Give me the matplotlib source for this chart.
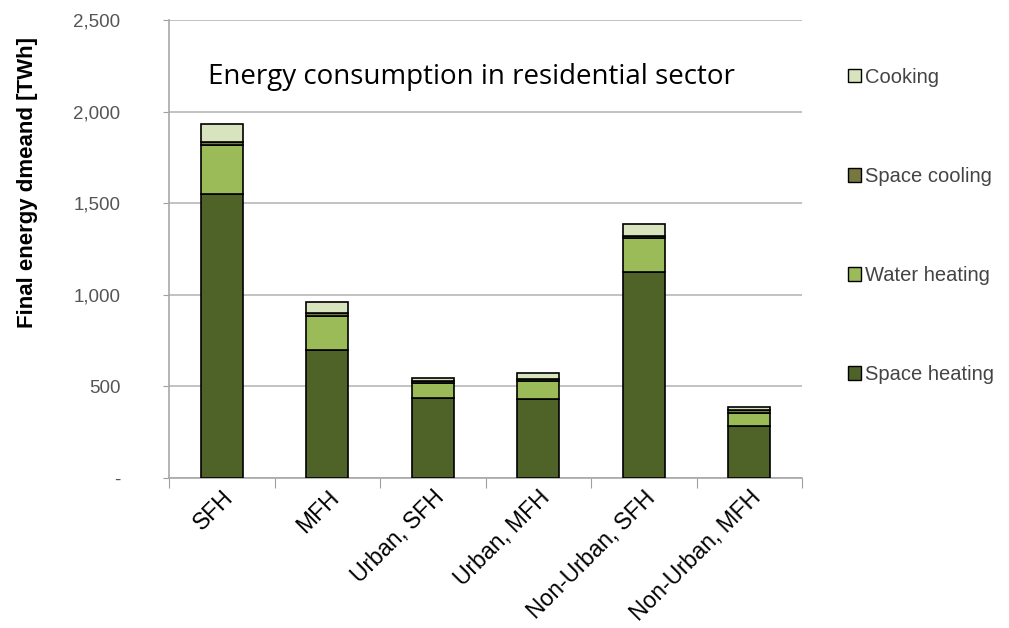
import matplotlib.pyplot as plt
import numpy as np
from matplotlib.patches import Patch
from matplotlib.ticker import FuncFormatter

# building types
categories = ["SFH", "MFH", "Urban, SFH", "Urban, MFH", "Non-Urban, SFH", "Non-Urban, MFH"]

# final energy demand by end use [TWh]
space_heating = [1550, 700, 436, 430, 1125, 284]
water_heating = [270, 182, 81, 98, 183, 70]
space_cooling = [13, 20, 13, 10, 14, 15]
cooking = [100, 60, 18, 34, 66, 17]

series = [
    ("Space heating", space_heating, "#4f6228"),
    ("Water heating", water_heating, "#9bbb59"),
    ("Space cooling", space_cooling, "#77783f"),
    ("Cooking", cooking, "#d7e4bd"),
]

plt.rcParams['font.family'] = ['Liberation Sans', 'DejaVu Sans']

fig = plt.figure(figsize=(10.09, 6.28), dpi=100)
ax = fig.add_axes([0.1675, 0.239, 0.6275, 0.729])

x = np.arange(len(categories))
bottom = np.zeros(len(categories))
for name, vals, col in series:
    ax.bar(x, vals, width=0.4, bottom=bottom, color=col,
           edgecolor="black", linewidth=1.2, zorder=3)
    bottom += np.array(vals)

ax.set_xlim(-0.5, len(categories) - 0.5)
ax.set_ylim(0, 2500)
ax.set_yticks([0, 500, 1000, 1500, 2000, 2500])
ax.yaxis.set_major_formatter(FuncFormatter(lambda v, p: "-" if v == 0 else f"{int(v):,}"))
ax.grid(axis="y", color="#b8b8b8", linewidth=1.2, zorder=0)

# category boundary ticks below the axis
ax.set_xticks(np.arange(-0.5, len(categories)), minor=False)
ax.set_xticklabels([])
ax.set_xticks(x, minor=True)
ax.set_xticklabels(categories, minor=True, rotation=45, ha="right",
                   rotation_mode="anchor", fontsize=16.5)
ax.tick_params(axis="x", which="minor", length=0, pad=6)
ax.tick_params(axis="x", which="major", length=7, color="#a0a0a0")
ax.tick_params(axis="y", length=4, color="#a0a0a0", labelsize=13.5,
               labelcolor="#555555", pad=31)

for side in ["top", "right"]:
    ax.spines[side].set_visible(False)
for side in ["left", "bottom"]:
    ax.spines[side].set_color("#a8a8a8")
    ax.spines[side].set_linewidth(1.2)

ax.set_ylabel("Final energy dmeand [TWh]", fontsize=16, fontweight="bold")
ax.yaxis.set_label_coords(-0.207, 0.646)

ax.text(0.062, 0.875, "Energy consumption in residential sector",
        transform=ax.transAxes, fontsize=20, family="Open Sans", va="center")

handles = [Patch(facecolor=col, edgecolor="black", linewidth=1, label=name)
           for name, vals, col in series][::-1]
fig.legend(handles=handles, loc="upper left", bbox_to_anchor=(0.822, 0.921),
           frameon=False, fontsize=14.5, labelspacing=3.98, handlelength=0.65,
           handleheight=0.65, handletextpad=0.2, labelcolor="#444444")

fig.savefig("out.png", dpi=100)
